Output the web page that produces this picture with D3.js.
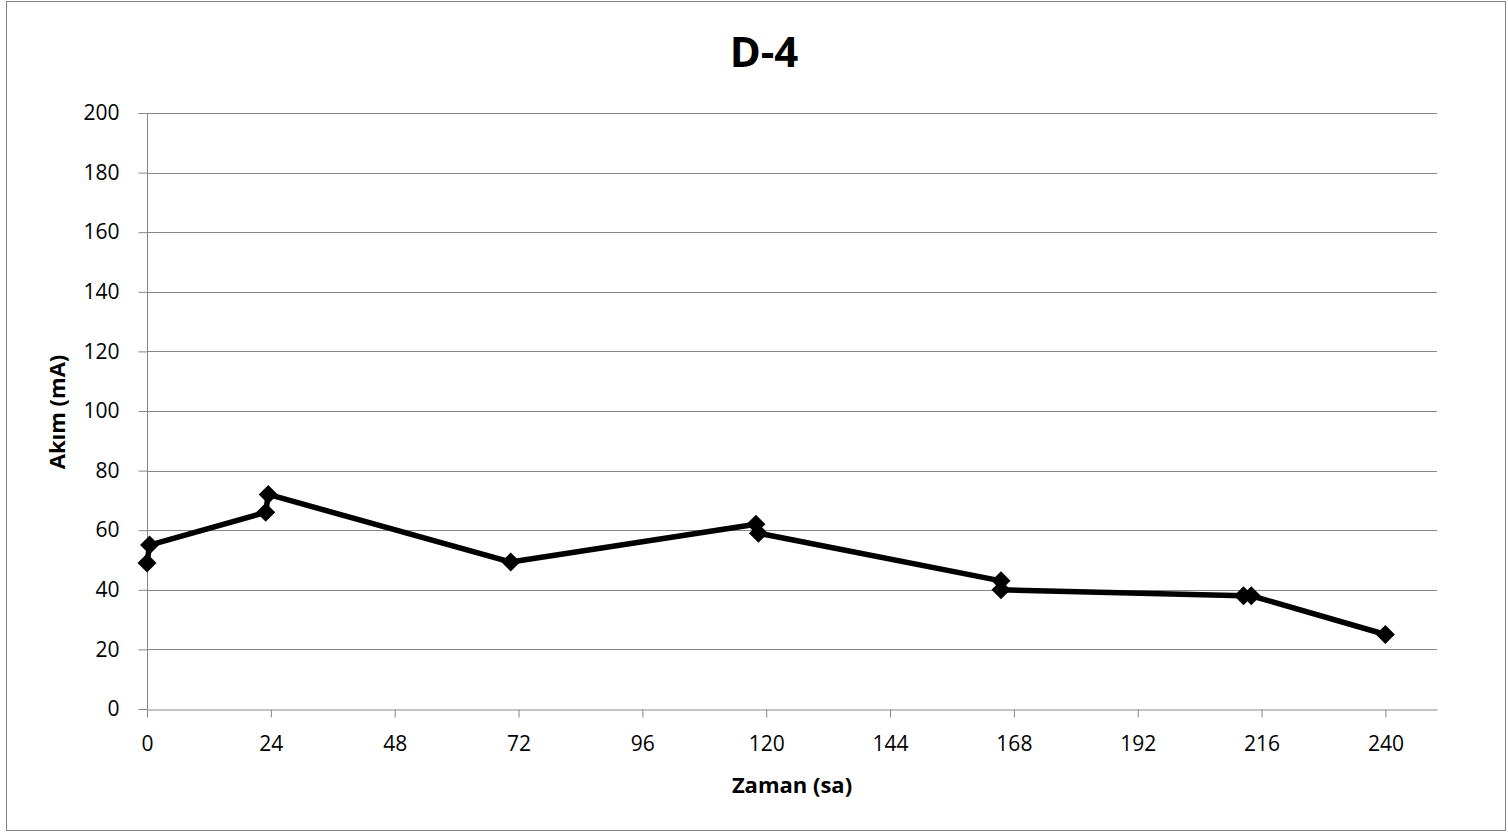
<!DOCTYPE html>
<html><head><meta charset="utf-8">
<script src="https://cdn.jsdelivr.net/npm/d3@7"></script>
<style>body{margin:0;background:#fff;} text{font-family:"Open Sans","Liberation Sans",sans-serif;}</style>
</head><body>
<svg id="c" width="1508" height="833"></svg>
<script>
const title = "D-4";
const xLabel = "Zaman (sa)";
const yLabel = "Akım (mA)";
const xTicks = [0,24,48,72,96,120,144,168,192,216,240];
const yTicks = [0,20,40,60,80,100,120,140,160,180,200];
const hours = [0, 0.5, 23, 23.5, 70.5, 118, 118.5, 165.5, 165.5, 212.5, 214, 240];
const current = [49, 55, 66, 72, 49.3, 62, 59, 43, 40, 38, 38, 25];

const svg = d3.select("#c");
const m = {l:147, r:1437, t:113, b:709};
svg.append("rect").attr("x",6.5).attr("y",1.5).attr("width",1499).attr("height",829)
  .attr("fill","#fff").attr("stroke","#868686").attr("stroke-width",1);
const x = d3.scaleLinear().domain([0,250]).range([m.l,m.r]);
const y = d3.scaleLinear().domain([0,200]).range([m.b,m.t]);

// gridlines
svg.append("g").selectAll("line").data(yTicks.filter(d=>d>0)).join("line")
  .attr("x1",m.l).attr("x2",m.r).attr("y1",d=>Math.round(y(d))+0.5).attr("y2",d=>Math.round(y(d))+0.5)
  .attr("stroke","#868686").attr("stroke-width",1);

const ya = svg.append("g").attr("transform",`translate(${m.l+0.5},0)`)
  .call(d3.axisLeft(y).tickValues(yTicks).tickSize(9).tickPadding(19));
ya.selectAll("text").attr("font-size",21).attr("fill","#000");
ya.selectAll("line,path").attr("stroke","#868686");
const xa = svg.append("g").attr("transform",`translate(0,${m.b+0.5})`)
  .call(d3.axisBottom(x).tickValues(xTicks).tickSize(8).tickSizeOuter(0).tickPadding(19));
xa.selectAll("text").attr("font-size",21).attr("fill","#000");
xa.selectAll("line,path").attr("stroke","#868686");
ya.select("path").attr("d",`M-9,${m.t+0.5}H0V${m.b}`);

const pts = hours.map((h,i)=>[h,current[i]]);
svg.append("path").datum(pts)
  .attr("d",d3.line().x(d=>x(d[0])).y(d=>y(d[1])))
  .attr("fill","none").attr("stroke","#000").attr("stroke-width",5.5).attr("stroke-linejoin","round");
svg.append("g").selectAll("path").data(pts).join("path")
  .attr("transform",d=>`translate(${x(d[0])},${y(d[1])})`)
  .attr("d","M0,-9.5L9.5,0L0,9.5L-9.5,0Z").attr("fill","#000");

svg.append("text").attr("x",764).attr("y",67).attr("text-anchor","middle")
  .attr("font-size",42).attr("font-weight","bold").text(title);
svg.append("text").attr("x",792).attr("y",793).attr("text-anchor","middle")
  .attr("font-size",22).attr("font-weight","bold").text(xLabel);
svg.append("text").attr("transform",`translate(65,${412}) rotate(-90)`).attr("text-anchor","middle")
  .attr("font-size",22).attr("font-weight","bold").text(yLabel);
</script>
</body></html>
